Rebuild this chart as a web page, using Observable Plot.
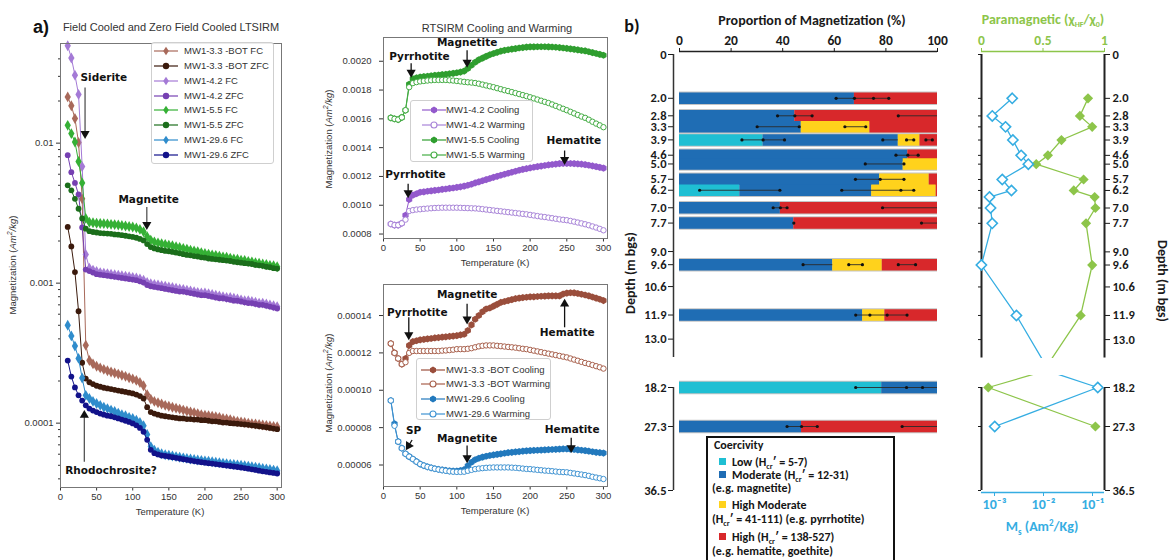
<!DOCTYPE html>
<html>
<head>
<meta charset="utf-8">
<script src="https://cdn.jsdelivr.net/npm/d3@7"></script>
<script src="https://cdn.jsdelivr.net/npm/@observablehq/plot@0.6"></script>
<style>
html,body{margin:0;padding:0;background:#fff;}
#root{position:relative;width:1170px;height:560px;overflow:hidden;background:#fff;}
.t{position:absolute;white-space:nowrap;line-height:1;}
</style>
</head>
<body>
<div id="root"></div>
<script>
// ---------------- DATA ----------------
const temps = [10,15,20,25,30,35,40,45,50,55,60,65,70,75,80,85,90,95,100,105,110,115,120,125,130,135,140,145,150,155,160,165,170,175,180,185,190,195,200,205,210,215,220,225,230,235,240,245,250,255,260,265,270,275,280,285,290,295,300];

// Panel a: LTSIRM (Am2/kg)
const fc33 = [0.0214,0.0185,0.015,0.0101,0.004,0.00036,0.00028,0.000265,0.000255,0.000248,
0.000242,0.000237,0.000232,0.000228,0.000224,0.00022,0.000216,0.000211,0.000207,0.000202,
0.000195,0.000185,0.00016,0.000148,0.000143,0.00014,0.000137,0.000134,0.000132,0.00013,
0.000128,0.000126,0.000124,0.000122,0.00012,0.000119,0.000117,0.000115,0.000114,0.000113,
0.000112,0.000111,0.00011,0.000108,0.000107,0.000106,0.000104,0.000103,0.000102,0.000101,
0.0001,0.0000992,0.0000985,0.0000978,0.000097,0.0000962,0.0000955,0.0000948,0.0000943];
const zfc33 = [0.00252,0.00183,0.0012,0.00063,0.00027,0.000208,0.000196,0.00019,0.000185,0.000182,
0.000179,0.000177,0.000175,0.000173,0.000171,0.000169,0.000167,0.000165,0.000163,0.00016,
0.000156,0.00015,0.00013,0.00012,0.000117,0.000115,0.000113,0.000112,0.000111,0.00011,
0.000109,0.000108,0.000108,0.000107,0.000107,0.000106,0.000106,0.000105,0.000105,0.000104,
0.000103,0.000103,0.000102,0.000101,0.000101,0.0001,0.0000995,0.000099,0.0000985,0.000098,
0.0000972,0.0000965,0.0000958,0.000095,0.0000942,0.0000935,0.0000925,0.0000915,0.0000906];
const fc42 = [0.0496,0.0406,0.0306,0.0223,0.0068,0.0016,0.00128,0.00124,0.00121,0.00119,
0.00118,0.00117,0.00116,0.00115,0.00114,0.00113,0.00112,0.00111,0.0011,0.00109,
0.00107,0.00105,0.00101,0.00099,0.00098,0.00097,0.00096,0.00095,0.00094,0.00093,
0.00092,0.00091,0.0009,0.00089,0.00088,0.00087,0.00086,0.00085,0.00085,0.00084,
0.00083,0.00082,0.00081,0.0008,0.00079,0.00079,0.00078,0.00077,0.00076,0.00075,
0.00075,0.00074,0.00073,0.00072,0.00072,0.00071,0.0007,0.00069,0.00068];
const zfc42 = [0.0082,0.0062,0.0052,0.0043,0.0025,0.00125,0.00122,0.00119,0.00116,0.00115,
0.00114,0.00113,0.00112,0.00111,0.0011,0.00109,0.00108,0.00107,0.00106,0.00105,
0.00103,0.00101,0.00097,0.00095,0.00094,0.00093,0.00092,0.00091,0.0009,0.00089,
0.00088,0.00087,0.00087,0.00086,0.00085,0.00084,0.00083,0.00082,0.00082,0.00081,
0.0008,0.00079,0.00078,0.00078,0.00077,0.00076,0.00075,0.00075,0.00074,0.00073,
0.00072,0.00072,0.00071,0.0007,0.0007,0.00069,0.00068,0.00067,0.00066];
const fc55 = [0.0134,0.0117,0.0102,0.0074,0.0052,0.0029,0.00272,0.0027,0.00268,0.00267,
0.00266,0.00265,0.00263,0.00262,0.0026,0.00258,0.00256,0.00254,0.00252,0.00248,
0.00242,0.00233,0.00215,0.00203,0.00197,0.00194,0.00191,0.00189,0.00187,0.00185,
0.00182,0.0018,0.00177,0.00175,0.00172,0.0017,0.00168,0.00165,0.00163,0.00161,
0.00159,0.00158,0.00156,0.00154,0.00153,0.00151,0.00149,0.00148,0.00146,0.00145,
0.00143,0.00142,0.0014,0.00139,0.00137,0.00136,0.00134,0.00133,0.00131];
const zfc55 = [0.005,0.0046,0.004,0.0034,0.0029,0.00245,0.00235,0.00232,0.0023,0.00228,
0.00227,0.00226,0.00225,0.00223,0.00222,0.0022,0.00218,0.00216,0.00214,0.00211,
0.00207,0.00202,0.0019,0.00181,0.00177,0.00174,0.00172,0.0017,0.00169,0.00167,
0.00165,0.00163,0.00161,0.00159,0.00158,0.00156,0.00155,0.00153,0.00152,0.0015,
0.00149,0.00148,0.00147,0.00146,0.00145,0.00144,0.00142,0.00141,0.0014,0.00139,
0.00138,0.00137,0.00135,0.00134,0.00133,0.00131,0.0013,0.00128,0.00127];
const fc296 = [0.0005,0.00042,0.000355,0.00029,0.00021,0.000158,0.00015,0.000143,0.000138,0.000134,
0.00013,0.000127,0.000124,0.000121,0.000118,0.000115,0.000113,0.00011,0.000108,0.000105,
0.000101,0.000096,0.000083,0.000068,0.000064,0.000062,0.0000605,0.0000595,0.000059,0.0000583,
0.0000577,0.0000571,0.0000565,0.000056,0.0000555,0.000055,0.0000546,0.0000542,0.0000538,0.0000534,
0.000053,0.0000526,0.0000522,0.0000518,0.0000514,0.000051,0.0000506,0.0000503,0.00005,0.0000496,
0.0000492,0.0000488,0.0000484,0.000048,0.0000475,0.0000471,0.0000467,0.0000462,0.0000457];
const zfc296 = [0.00028,0.000215,0.00018,0.000158,0.000145,0.000134,0.000127,0.000123,0.00012,0.000117,
0.000115,0.000113,0.000112,0.00011,0.000108,0.000106,0.000104,0.000102,0.0000995,0.0000965,
0.0000925,0.0000868,0.000076,0.0000645,0.000061,0.0000598,0.0000588,0.0000583,0.0000578,0.0000571,
0.0000565,0.0000559,0.0000553,0.0000547,0.0000541,0.0000536,0.0000531,0.0000526,0.0000522,0.0000518,
0.0000514,0.000051,0.0000506,0.0000502,0.0000498,0.0000494,0.000049,0.0000486,0.0000482,0.0000478,
0.0000473,0.0000468,0.0000463,0.0000458,0.0000453,0.0000449,0.0000445,0.0000441,0.0000437];

// Panel middle-top: RTSIRM MW1-4.2 / MW1-5.5
const c42 = [0.00087,0.000862,0.000862,0.000875,0.00093,0.00104,0.00107,0.00108,0.00109,0.001093,
0.001097,0.0011,0.001103,0.001106,0.00111,0.001113,0.001117,0.00112,0.001124,0.001128,
0.001133,0.001139,0.001146,0.001155,0.001162,0.00117,0.001178,0.001186,0.001194,0.001201,
0.001208,0.001215,0.001222,0.001229,0.001236,0.001243,0.001249,0.001254,0.001259,0.001264,
0.001268,0.001272,0.001276,0.00128,0.001283,0.001286,0.001289,0.00129,0.00129,0.00129,
0.001289,0.001287,0.001285,0.001282,0.001278,0.001273,0.001268,0.001263,0.001258];
const w42 = [0.00087,0.000862,0.000862,0.000875,0.0009,0.00096,0.000966,0.00097,0.000972,0.000975,
0.000977,0.000979,0.000981,0.000982,0.000983,0.000983,0.000983,0.000983,0.000983,0.000982,
0.000981,0.00098,0.000979,0.000978,0.000976,0.000973,0.00097,0.000967,0.000964,0.000961,
0.000958,0.000955,0.000952,0.000949,0.000946,0.000943,0.00094,0.000937,0.000933,0.000929,
0.000925,0.000921,0.000918,0.000914,0.00091,0.000906,0.000902,0.000899,0.000896,0.000891,
0.000886,0.00088,0.000874,0.000868,0.000861,0.000853,0.000845,0.000836,0.000826];
const c55 = [0.001607,0.0016,0.001595,0.00161,0.00166,0.00184,0.001878,0.001885,0.00189,0.001893,
0.001896,0.001899,0.001902,0.001904,0.001907,0.00191,0.001913,0.001916,0.00192,0.001925,
0.001932,0.00195,0.001972,0.001993,0.00201,0.002022,0.002034,0.002045,0.002054,0.002062,
0.00207,0.002076,0.00208,0.002084,0.002088,0.002092,0.002095,0.002098,0.0021,0.0021,
0.002101,0.002101,0.002101,0.0021,0.002099,0.002097,0.002095,0.002092,0.002089,0.002086,
0.002083,0.002079,0.002075,0.002072,0.002066,0.00206,0.002054,0.002048,0.002042];
const w55 = [0.001607,0.0016,0.001595,0.00161,0.00166,0.00182,0.001848,0.001855,0.00186,0.001863,
0.001866,0.001868,0.00187,0.00187,0.00187,0.00187,0.001868,0.001866,0.001863,0.00186,
0.001857,0.001854,0.001852,0.001849,0.001844,0.001838,0.001832,0.001826,0.00182,0.001813,
0.001806,0.001799,0.001793,0.001786,0.001779,0.001772,0.001765,0.001758,0.00175,0.001742,
0.001734,0.001726,0.001718,0.00171,0.0017,0.00169,0.00168,0.00167,0.00166,0.001649,
0.001638,0.001627,0.001616,0.001607,0.001594,0.00158,0.001567,0.001555,0.001542];

// Panel middle-bottom: RTSIRM MW1-3.3 BOT / MW1-29.6
const c33 = [0.000125,0.00012,0.000117,0.000114,0.000117,0.000124,0.000126,0.0001265,0.000127,0.0001272,
0.0001275,0.0001277,0.000128,0.0001282,0.0001284,0.0001286,0.0001288,0.000129,0.0001292,0.0001296,
0.00013,0.000132,0.000135,0.000138,0.00014,0.000142,0.0001435,0.000144,0.000145,0.000146,
0.000147,0.0001475,0.000148,0.0001485,0.000149,0.0001493,0.0001496,0.0001498,0.00015,0.00015,
0.0001502,0.0001503,0.0001504,0.0001505,0.0001505,0.0001505,0.0001505,0.0001515,0.000152,0.0001522,
0.0001521,0.0001518,0.0001514,0.000151,0.0001505,0.0001499,0.0001493,0.0001487,0.000148];
const w33 = [0.000125,0.00012,0.000117,0.000114,0.000115,0.00012,0.000121,0.000121,0.000121,0.000121,
0.000121,0.000121,0.000121,0.000121,0.0001212,0.0001213,0.0001215,0.0001217,0.000122,0.000122,
0.000122,0.0001222,0.0001225,0.000123,0.0001235,0.0001238,0.000124,0.000124,0.000124,0.0001238,
0.0001236,0.0001234,0.0001232,0.000123,0.0001228,0.0001225,0.0001222,0.000122,0.0001216,0.0001212,
0.0001208,0.0001204,0.00012,0.0001196,0.0001192,0.0001188,0.0001184,0.000118,0.0001176,0.000117,
0.0001164,0.0001158,0.0001152,0.0001146,0.0001141,0.0001135,0.0001129,0.0001123,0.0001116];
const c296 = [0.0000945,0.000082,0.0000725,0.000069,0.000066,0.0000645,0.0000632,0.0000618,0.0000605,0.0000597,
0.000059,0.0000585,0.000058,0.0000577,0.0000574,0.0000571,0.0000569,0.0000568,0.0000568,0.000057,
0.0000575,0.0000596,0.0000615,0.0000628,0.0000636,0.0000642,0.0000647,0.0000651,0.0000654,0.0000657,
0.000066,0.0000663,0.0000666,0.0000668,0.000067,0.0000672,0.0000674,0.0000676,0.0000677,0.0000678,
0.0000679,0.000068,0.0000681,0.0000682,0.0000683,0.0000684,0.0000685,0.0000686,0.0000686,0.0000685,
0.0000683,0.0000681,0.0000679,0.0000677,0.0000674,0.0000671,0.0000668,0.0000666,0.0000664];
const w296 = [0.0000945,0.000081,0.0000725,0.000069,0.000066,0.0000645,0.0000632,0.0000618,0.0000605,0.0000597,
0.000059,0.0000585,0.000058,0.0000576,0.0000572,0.0000569,0.0000566,0.0000564,0.0000563,0.0000563,
0.0000564,0.0000569,0.0000574,0.0000578,0.0000581,0.0000583,0.0000585,0.0000586,0.0000587,0.0000587,
0.0000587,0.0000587,0.0000587,0.0000586,0.0000585,0.0000583,0.0000581,0.0000579,0.0000578,0.0000576,
0.0000574,0.0000572,0.000057,0.0000569,0.0000567,0.0000565,0.0000563,0.0000562,0.0000561,0.0000558,
0.0000555,0.0000552,0.0000549,0.0000546,0.0000542,0.0000537,0.0000533,0.0000529,0.0000525];

// Panel b: coercivity proportions (%)
const barDepths   = [2.0, 2.8, 3.3, 3.9, 4.6, 5.0, 5.7, 6.2, 7.0, 7.7, 9.6, 11.9, 18.2, 27.3];
const lowPct      = [0, 0, 0, 32.4, 0, 0, 0, 23.4, 0, 0, 0, 0, 78.4, 0];
const moderatePct = [67.8, 44.7, 47.2, 52.4, 88.5, 86.7, 77.6, 51.1, 39.1, 44.3, 59.4, 71.0, 21.6, 47.3];
const highModPct  = [0, 0, 26.6, 8.4, 0, 13.3, 19.2, 25.0, 0, 0, 19.2, 8.6, 0, 0];
const highPct     = [32.2, 55.3, 26.2, 6.8, 11.5, 0, 3.2, 0.5, 60.9, 55.7, 21.4, 20.4, 0, 52.7];
const classes     = ["Low", "Moderate", "High Moderate", "High"];
const errDepth = [2.0, 2.0, 2.8, 2.8, 3.3, 3.3, 3.9, 3.9, 3.9, 3.9, 4.6, 5.0, 5.7, 6.2, 6.2, 7.0, 7.0, 7.7, 9.6, 9.6, 9.6, 11.9, 18.2, 27.3, 27.3];
const errLo    = [60.7, 67.8, 38, 84.8, 30.1, 64.1, 24.2, 78.8, 88, 95.5, 83.9, 72, 68.2, 7.8, 62.9, 36.3, 78.7, 93.8, 47.9, 65.6, 84.8, 68.3, 68.3, 41.7, 86.3];
const errHi    = [67.8, 81.1, 51.4, 100, 46.4, 72.2, 40.7, 84.8, 90.8, 98, 92.5, 87, 87, 38.9, 90.8, 41.7, 100, 100, 59.4, 70.9, 91.5, 88.2, 100, 53.4, 100];
const errDots  = [[2.0,[60.7,67.8,75.2,81.1]],[2.8,[38,44.7,51.4,84.8]],[3.3,[30.1,46.4,64.1,72.2]],
  [3.9,[24.2,32.4,40.7,78.8,88,90.8,95.5,98]],[4.6,[83.9,88.5,92.5]],[5.0,[72,87]],[5.7,[68.2,77.8,87]],
  [6.2,[7.8,38.9,62.9,85.8,90.8]],[7.0,[36.3,39.1,41.7,78.7]],[7.7,[44.3,93.8]],[9.6,[47.9,65.6,70.9,84.8,91.5]],
  [11.9,[68.3,73.8,80.5,88.2]],[18.2,[68.3,88,94.2]],[27.3,[41.7,47.3,53.4,86.3]]];

// Right panel: paramagnetic fraction and Ms
const profDepth = [2.0, 2.8, 3.3, 3.9, 4.6, 5.0, 5.7, 6.2, 6.5, 7.0, 7.7, 9.6, 11.9, 18.2, 27.3];
const paraFrac  = [0.866, 0.80, 0.90, 0.65, 0.54, 0.445, 0.83, 0.75, 0.92, 0.926, 0.85, 0.90, 0.806, 0.055, 0.926];
const msVal     = [0.0023, 0.0009, 0.00168, 0.00237, 0.0035, 0.0049, 0.00144, 0.00222, 0.00079, 0.00083, 0.0009, 0.00054, 0.0028, 0.128, 0.00101];

// tick labels
const tempTicks = [0, 50, 100, 150, 200, 250, 300];
const depthTicksUpper = [0, 2.0, 2.8, 3.3, 3.9, 4.6, 5.0, 5.7, 6.2, 7.0, 7.7, 9.0, 9.6, 10.6, 11.9, 13.0];
const depthTicksLower = [18.2, 27.3, 36.5];
const depthBreak = [13.84, 18.2];

[fc33,zfc33,fc42,zfc42,fc55,zfc55,fc296,zfc296,c42,w42,c55,w55,c33,w33,c296,w296].forEach((a,i)=>{
  if (a.length !== temps.length) throw new Error("series " + i + " has " + a.length);
});

// ---------------- HELPERS ----------------
const root = document.getElementById("root");
const SANS = "'Liberation Sans', Arial, sans-serif";
const CAL = "Carlito, Lato, 'Open Sans', sans-serif";
const GREEN = "#8dc54a", BLUE = "#35ade2";
function put(node, left, top) {
  node.style.position = "absolute"; node.style.left = left + "px"; node.style.top = top + "px";
  root.appendChild(node); return node;
}
function label(html, cx, cy, font, color, rot) {
  const d = document.createElement("div");
  d.className = "t"; d.innerHTML = html;
  d.style.left = cx + "px"; d.style.top = cy + "px";
  d.style.font = font; d.style.color = color || "#222";
  d.style.transform = "translate(-50%,-50%)" + (rot ? ` rotate(${rot}deg)` : "");
  root.appendChild(d);
}
// broken (piecewise) depth axis: a scale transform that keeps the end points fixed
function brokenAxis(knotsDepth, knotsPx) {
  const d0 = knotsDepth[0], d1 = knotsDepth[knotsDepth.length - 1];
  const p0 = knotsPx[0], p1 = knotsPx[knotsPx.length - 1];
  return d3.scaleLinear(knotsDepth, knotsPx.map(p => d0 + (p - p0) / (p1 - p0) * (d1 - d0)));
}
const fmtDepth = d => Math.abs(d) < 1e-6 ? "0" : d.toFixed(1);
const rowsOf = (vals) => temps.map((t, i) => ({T: t, v: vals[i]}));
function markerSvg(it) {
  if (it.sym === "diamond") return `<path d="M12,1.8L14.8,6L12,10.2L9.2,6Z" fill="${it.color}"/>`;
  if (it.sym === "hexagon") return `<path d="M12,2.5L15,4.25L15,7.75L12,9.5L9,7.75L9,4.25Z" fill="${it.color}"/>`;
  if (it.hollow) return `<circle cx="12" cy="6" r="3" fill="#fff" stroke="${it.color}" stroke-width="1.1"/>`;
  return `<circle cx="12" cy="6" r="3.2" fill="${it.color}"/>`;
}
function legendBox(x, y, w, h, items, firstY, gap, padL, textX) {
  const box = document.createElement("div");
  box.style.cssText = `position:absolute;left:${x}px;top:${y}px;width:${w}px;height:${h}px;border:1px solid #cfcfcf;border-radius:3px;background:rgba(255,255,255,0.85);box-sizing:border-box;`;
  items.forEach((it, i) => {
    const r = document.createElement("div");
    r.style.cssText = `position:absolute;left:${padL}px;top:${firstY + i*gap - 6}px;height:12px;white-space:nowrap;font:9.5px ${SANS};color:#333;line-height:12px;`;
    r.innerHTML = `<svg width="24" height="12" style="position:absolute;left:0;top:0"><line x1="0" x2="24" y1="6" y2="6" stroke="${it.color}" stroke-width="1.2"/>${markerSvg(it)}</svg><span style="position:absolute;left:${textX - padL}px;top:0">${it.name}</span>`;
    box.appendChild(r);
  });
  root.appendChild(box);
}
function annot(texts, arrows, lineColor) {
  return [
    Plot.link(arrows, {x1: "x1", y1: "y1", x2: "x2", y2: "y2", stroke: lineColor, strokeWidth: 1.3}),
    Plot.dot(arrows, {x: "x2", y: "y2", symbol: "triangle", rotate: "rot", r: 3.4, fill: "#111"}),
    Plot.text(texts, {x: "x", y: "y", text: "t", fontWeight: "bold", fontSize: 10.5, fontFamily: "'DejaVu Sans', sans-serif", fill: "#111"})
  ];
}

// ---------------- PANEL a ----------------
const seriesA = [
  {name: "MW1-3.3 -BOT FC",  vals: fc33,  color: "#a8695a", sym: "diamond"},
  {name: "MW1-3.3 -BOT ZFC", vals: zfc33, color: "#3b1a0c", sym: "circle"},
  {name: "MW1-4.2 FC",       vals: fc42,  color: "#a47ad6", sym: "diamond"},
  {name: "MW1-4.2 ZFC",      vals: zfc42, color: "#7640b2", sym: "circle"},
  {name: "MW1-5.5 FC",       vals: fc55,  color: "#35b035", sym: "diamond"},
  {name: "MW1-5.5 ZFC",      vals: zfc55, color: "#1b6e1b", sym: "circle"},
  {name: "MW1-29.6 FC",      vals: fc296, color: "#2f8ccc", sym: "diamond"},
  {name: "MW1-29.6 ZFC",     vals: zfc296,color: "#12128a", sym: "circle"}
];
const logMajor = [1e-4, 1e-3, 1e-2];
const logMinor = [1e-5, 1e-4, 1e-3, 1e-2].flatMap(p => [2,3,4,5,6,7,8,9].map(k => k * p)).filter(v => v > 3.5e-5 && v < 0.05);
const textsA = [{t: "Siderite", x: 60, y: 0.0296}, {t: "Magnetite", x: 122, y: 0.00398}, {t: "Rhodochrosite?", x: 70, y: 0.0000461}];
const arrowsA = [{x1: 34, y1: 0.025, x2: 34, y2: 0.0117, rot: 180}, {x1: 119.5, y1: 0.0035, x2: 119.5, y2: 0.00262, rot: 180},
                 {x1: 33, y1: 0.000053, x2: 33, y2: 0.000114, rot: 0}];
const plotA = Plot.plot({
  width: 290, height: 530, marginLeft: 60, marginRight: 9, marginTop: 43, marginBottom: 43,
  x: {domain: [0, 306]},
  y: {type: "log", domain: [3.47e-5, 0.0515]},
  style: {background: "transparent", fontFamily: SANS, fontSize: "9.5px", color: "#333", overflow: "visible"},
  marks: [
    Plot.axisX({ticks: tempTicks, tickSize: 3.5, tickPadding: 2, label: null}),
    Plot.axisY({ticks: logMajor, tickFormat: d => String(d), tickSize: 4, tickPadding: 3, label: null}),
    Plot.axisY({ticks: logMinor, tickFormat: () => "", tickSize: 2, label: null}),
    ...seriesA.flatMap(s => [
      Plot.line(rowsOf(s.vals), {x: "T", y: "v", stroke: s.color, strokeWidth: 1}),
      Plot.dot(rowsOf(s.vals), {x: "T", y: "v", fill: s.color, symbol: s.sym, r: s.sym === "diamond" ? 3.3 : 2.9})
    ]),
    ...annot(textsA, arrowsA, "#555"),
    Plot.frame({stroke: "#777"})
  ]
});
put(plotA, 0, 0);

// ---------------- MIDDLE PANELS ----------------
function middlePlot(series, yDomain, yTicks, fmt, h, mt, mb, texts, arrows) {
  return Plot.plot({
    width: 305, height: h, marginLeft: 73, marginRight: 8, marginTop: mt, marginBottom: mb,
    x: {domain: [0, 305.5]},
    y: {domain: yDomain},
    style: {background: "transparent", fontFamily: SANS, fontSize: "9.5px", color: "#333", overflow: "visible"},
    marks: [
      Plot.axisX({ticks: tempTicks, tickSize: 3.5, tickPadding: 2, label: null}),
      Plot.axisY({ticks: yTicks, tickFormat: fmt, tickSize: 4, tickPadding: 8, label: null}),
      ...series.flatMap(s => [
        Plot.line(rowsOf(s.vals), {x: "T", y: "v", stroke: s.color, strokeWidth: 1}),
        s.hollow
          ? Plot.dot(rowsOf(s.vals), {x: "T", y: "v", r: 2.7, fill: "white", stroke: s.color, strokeWidth: 1})
          : Plot.dot(rowsOf(s.vals), {x: "T", y: "v", r: 3.1, symbol: "hexagon", fill: s.color})
      ]),
      ...annot(texts, arrows, "#111"),
      Plot.frame({stroke: "#777"})
    ]
  });
}
const seriesB = [
  {name: "MW1-4.2  Cooling", vals: c42, color: "#9359cc", sym: "hexagon"},
  {name: "MW1-4.2  Warming", vals: w42, color: "#a884d8", hollow: true},
  {name: "MW1-5.5  Cooling", vals: c55, color: "#2f9e2f", sym: "hexagon"},
  {name: "MW1-5.5  Warming", vals: w55, color: "#45ad45", hollow: true}
];
const textsB = [{t: "Magnetite", x: 114, y: 0.002127}, {t: "Pyrrhotite", x: 49, y: 0.002035},
                {t: "Pyrrhotite", x: 43.6, y: 0.001211}, {t: "Hematite", x: 259.5, y: 0.00145}];
const arrowsB = [{x1: 114, y1: 0.002077, x2: 114, y2: 0.001992, rot: 180}, {x1: 37.7, y1: 0.001986, x2: 37.7, y2: 0.001922, rot: 180},
                 {x1: 33.6, y1: 0.00115, x2: 33.6, y2: 0.001086, rot: 180}, {x1: 247, y1: 0.00138, x2: 247, y2: 0.001316, rot: 180}];
const plotB = middlePlot(seriesB, [0.000769, 0.002165], [0.0008, 0.001, 0.0012, 0.0014, 0.0016, 0.0018, 0.002],
  d3.format(".4f"), 280, 37, 42, textsB, arrowsB);
put(plotB, 310, 0);

const seriesC = [
  {name: "MW1-3.3 -BOT Cooling", vals: c33, color: "#9a4e3c", sym: "hexagon"},
  {name: "MW1-3.3 -BOT Warming", vals: w33, color: "#a8604c", hollow: true},
  {name: "MW1-29.6 Cooling", vals: c296, color: "#2279bd", sym: "hexagon"},
  {name: "MW1-29.6 Warming", vals: w296, color: "#3f93d2", hollow: true}
];
const textsC = [{t: "Magnetite", x: 114, y: 0.0001513}, {t: "Pyrrhotite", x: 46, y: 0.0001418}, {t: "Hematite", x: 250.5, y: 0.0001311},
                {t: "SP", x: 41, y: 0.0000784}, {t: "Magnetite", x: 114, y: 0.0000739}, {t: "Hematite", x: 257.3, y: 0.0000788}];
const arrowsC = [{x1: 114, y1: 0.0001463, x2: 114, y2: 0.000138, rot: 180}, {x1: 34.5, y1: 0.0001391, x2: 34.5, y2: 0.0001296, rot: 180},
                 {x1: 247, y1: 0.0001337, x2: 247, y2: 0.0001462, rot: 0}, {x1: 39, y1: 0.0000734, x2: 34.2, y2: 0.0000703, rot: 212},
                 {x1: 114, y1: 0.0000704, x2: 114, y2: 0.0000638, rot: 180}, {x1: 256, y1: 0.0000746, x2: 256, y2: 0.0000692, rot: 180}];
const plotC = middlePlot(seriesC, [0.0000485, 0.0001566], [0.00006, 0.00008, 0.0001, 0.00012, 0.00014],
  d3.format(".5f"), 250, 4, 44, textsC, arrowsC);
put(plotC, 310, 280);

// ---------------- PANEL b: BARS ----------------
const pctArrays = [lowPct, moderatePct, highModPct, highPct];
const segs = [];
barDepths.forEach((d, i) => {
  let acc = 0;
  pctArrays.forEach((arr, k) => { const w = arr[i]; if (w > 0) { segs.push({depth: d, a: acc, b: acc + w, cls: classes[k]}); acc += w; } });
});
const errRows = errDepth.map((d, i) => ({depth: d, lo: errLo[i], hi: errHi[i]}));
const dotRows = errDots.flatMap(([d, xs]) => xs.map(x => ({depth: d, x})));
const axisSegs = [{from: 0, to: depthBreak[0]}, {from: depthBreak[1], to: 36.5}];
const barTransform = brokenAxis([0, depthBreak[0], 18.2, 27.3, 36.5], [54, 357, 387, 426, 490]);
const barTicks = depthTicksUpper.concat(depthTicksLower).map(barTransform);
const plotBars = Plot.plot({
  width: 330, height: 500, marginLeft: 53, marginRight: 13, marginTop: 51, marginBottom: 10,
  x: {domain: [0, 100], range: [59, 317]},
  y: {transform: barTransform, domain: [0, 36.5], range: [54, 490]},
  color: {domain: classes, range: ["#1fbfd3", "#1f6db4", "#ffd21c", "#d8282b"]},
  style: {background: "transparent", fontFamily: CAL, fontSize: "12.5px", fontWeight: "bold", color: "#1a1a1a", overflow: "visible"},
  marks: [
    Plot.ruleY([0], {x1: 0, x2: 100, dy: -3, stroke: "#222", strokeWidth: 1.5}),
    Plot.axisX({anchor: "top", ticks: [0, 20, 40, 60, 80, 100], tickSize: 4, tickPadding: 3, fontSize: 13.5, label: null}),
    Plot.ruleX(axisSegs, {x: 0, y1: "from", y2: "to", dx: -6, stroke: "#333", strokeWidth: 1.5}),
    Plot.axisY({ticks: barTicks, tickFormat: d => fmtDepth(barTransform.invert(d)), tickSize: 5, tickPadding: 2, label: null}),
    Plot.ruleY(barDepths, {x1: 0, x2: 100, stroke: "#c4c4c4", strokeWidth: 13.5}),
    Plot.ruleY(segs, {y: "depth", x1: "a", x2: "b", stroke: "cls", strokeWidth: 11.5}),
    Plot.ruleY(errRows, {y: "depth", x1: "lo", x2: "hi", stroke: "#2a2a2a", strokeWidth: 0.9}),
    Plot.dot(dotRows, {x: "x", y: "depth", r: 1.6, fill: "#111"})
  ]
});
put(plotBars, 620, 0);

// ---------------- RIGHT PANEL ----------------
const profRows = profDepth.map((d, i) => ({depth: d, p: paraFrac[i], m: msVal[i]}));
const upper = profRows.filter(r => r.depth < depthBreak[0]);
const lower = profRows.filter(r => r.depth > depthBreak[1] - 0.1);
const boldStyle = {background: "transparent", fontFamily: CAL, fontSize: "12.5px", fontWeight: "bold", color: "#1a1a1a", overflow: "visible"};
const supMap = {"-": "\u207B", "0": "\u2070", "1": "\u00B9", "2": "\u00B2", "3": "\u00B3"};
const fmtPow = d => "10" + String(Math.round(Math.log10(d))).split("").map(c => supMap[c]).join("");
const lowerTransform = brokenAxis(depthTicksLower, [27, 66, 130]);
const lowerTicks = depthTicksLower.map(lowerTransform);

const greenUpper = Plot.plot({
  width: 230, height: 358, marginLeft: 41, marginRight: 66, marginTop: 51, marginBottom: 0,
  x: {domain: [0, 1]}, y: {domain: [0, depthBreak[0]], range: [54, 357.5]},
  style: boldStyle,
  marks: [
    Plot.ruleY([0], {x1: 0, x2: 1, dy: -3, stroke: GREEN, strokeWidth: 1.6}),
    Plot.axisX({anchor: "top", ticks: [0, 0.5, 1], tickFormat: d => String(d), tickSize: 4, tickPadding: 3, stroke: GREEN, fill: GREEN, fontSize: 13.5, label: null}),
    Plot.ruleX([0, 1], {y1: 0, y2: depthBreak[0], stroke: "#222", strokeWidth: 2}),
    Plot.axisY({anchor: "right", ticks: depthTicksUpper, tickFormat: fmtDepth, tickSize: 5, tickPadding: 3, label: null}),
    Plot.axisY({anchor: "left", ticks: depthTicksUpper, tickFormat: () => "", tickSize: 3, label: null}),
    Plot.line(profRows, {x: "p", y: "depth", stroke: GREEN, strokeWidth: 1.3, clip: true}),
    Plot.dot(upper, {x: "p", y: "depth", symbol: "diamond2", r: 4.6, fill: GREEN})
  ]
});
put(greenUpper, 940, 0);
const blueUpper = Plot.plot({
  width: 230, height: 358, marginLeft: 41, marginRight: 66, marginTop: 51, marginBottom: 0,
  x: {type: "log", domain: [0.001, 0.1], range: [54, 152], axis: null},
  y: {domain: [0, depthBreak[0]], range: [54, 357.5], axis: null},
  style: {background: "transparent", overflow: "visible"},
  marks: [
    Plot.line(profRows, {x: "m", y: "depth", stroke: BLUE, strokeWidth: 1.3, clip: true}),
    Plot.dot(upper, {x: "m", y: "depth", symbol: "diamond2", r: 4.6, fill: "white", stroke: BLUE, strokeWidth: 1.6})
  ]
});
put(blueUpper, 940, 0);
const greenLower = Plot.plot({
  width: 230, height: 200, marginLeft: 41, marginRight: 66, marginTop: 15, marginBottom: 68,
  x: {domain: [0, 1], axis: null},
  y: {transform: lowerTransform, domain: [18.2, 36.5], range: [27, 130]},
  style: boldStyle,
  marks: [
    Plot.ruleX([0, 1], {y1: 18.2, y2: 36.5, stroke: "#222", strokeWidth: 2}),
    Plot.ruleY([36.5], {x1: 0, x2: 1, dy: 2, stroke: BLUE, strokeWidth: 1.6}),
    Plot.axisY({anchor: "right", ticks: lowerTicks, tickFormat: d => fmtDepth(lowerTransform.invert(d)), tickSize: 5, tickPadding: 3, label: null}),
    Plot.axisY({anchor: "left", ticks: lowerTicks, tickFormat: () => "", tickSize: 3, label: null}),
    Plot.line(profRows, {x: "p", y: "depth", stroke: GREEN, strokeWidth: 1.3, clip: true}),
    Plot.dot(lower, {x: "p", y: "depth", symbol: "diamond2", r: 4.6, fill: GREEN})
  ]
});
put(greenLower, 940, 360);
const blueLower = Plot.plot({
  width: 230, height: 200, marginLeft: 41, marginRight: 66, marginTop: 15, marginBottom: 68,
  x: {type: "log", domain: [0.001, 0.1], range: [54, 152]},
  y: {transform: lowerTransform, domain: [18.2, 36.5], range: [27, 130], axis: null},
  style: {background: "transparent", fontFamily: CAL, fontSize: "14px", fontWeight: "bold", color: BLUE, overflow: "visible"},
  marks: [
    Plot.axisX({anchor: "bottom", ticks: [0.001, 0.01, 0.1], tickFormat: fmtPow, tickSize: 4, tickPadding: 3, stroke: BLUE, fill: BLUE, fontSize: 14, label: null}),
    Plot.line(profRows, {x: "m", y: "depth", stroke: BLUE, strokeWidth: 1.3, clip: true}),
    Plot.dot(lower, {x: "m", y: "depth", symbol: "diamond2", r: 4.6, fill: "white", stroke: BLUE, strokeWidth: 1.6})
  ]
});
put(blueLower, 940, 360);

// ---------------- TEXT ----------------
label("a)", 41, 27, `bold 18px ${SANS}`, "#111");
label("Field Cooled and Zero Field Cooled LTSIRM", 171, 27, `11px ${SANS}`, "#333");
label("RTSIRM Cooling and Warming", 497, 28, `11px ${SANS}`, "#333");
label("Temperature (K)", 170, 511, `9.5px ${SANS}`, "#333");
label("Temperature (K)", 495, 262, `9.5px ${SANS}`, "#333");
label("Temperature (K)", 495, 510, `9.5px ${SANS}`, "#333");
const magLbl = "Magnetization (<i>Am<sup style='font-size:7px'>2</sup>/kg</i>)";
label(magLbl, 12, 265, `9.5px ${SANS}`, "#333", -90);
label(magLbl, 328, 139, `9.5px ${SANS}`, "#333", -90);
label(magLbl, 328, 383, `9.5px ${SANS}`, "#333", -90);
label("b)", 632, 26, `bold 18px ${CAL}`, "#111");
label("Proportion of Magnetization (%)", 812, 20, `bold 14px ${CAL}`, "#1a1a1a");
label("Depth (m bgs)", 630, 273, `bold 14px ${CAL}`, "#1a1a1a", -90);
label("Depth (m bgs)", 1162, 281, `bold 14px ${CAL}`, "#1a1a1a", 90);
label("Paramagnetic (\u03C7<sub style='font-size:8px'>HF</sub>/\u03C7<sub style='font-size:8px'>0</sub>)", 1043, 20, `bold 14px ${CAL}`, GREEN);
label("M<sub style='font-size:9px'>s</sub> (Am<sup style='font-size:9px'>2</sup>/Kg)", 1042, 527, `bold 14px ${CAL}`, BLUE);

// ---------------- LEGENDS ----------------
legendBox(151, 42, 123, 122, seriesA, 8, 14.85, 2, 32);
legendBox(410, 100, 123, 62, seriesB, 9.3, 14.9, 11, 35);
legendBox(416, 358, 135, 62, seriesC, 10.6, 14.7, 4, 29);

const cbox = document.createElement("div");
cbox.style.cssText = `position:absolute;left:706px;top:436px;width:189px;height:140px;border:2.5px solid #111;box-sizing:border-box;background:#fff;font:bold 12px ${CAL};color:#151515;`;
const cl = ["#1fbfd3", "#1f6db4", "#ffd21c", "#d8282b"];
const cLines = [
  [6, 7, null, "Coercivity"],
  [11, 23.5, cl[0], "Low (H<sub style='font-size:8px;line-height:0'>cr</sub>\u2032 = 5-7)"],
  [11, 37, cl[1], "Moderate (H<sub style='font-size:8px;line-height:0'>cr</sub>\u2032 = 12-31)"],
  [4, 50, null, "(e.g. magnetite)"],
  [11, 67, cl[2], "High Moderate"],
  [4, 80.5, null, "(H<sub style='font-size:8px;line-height:0'>cr</sub>\u2032 = 41-111) (e.g. pyrrhotite)"],
  [11, 98.5, cl[3], "High (H<sub style='font-size:8px;line-height:0'>cr</sub>\u2032 = 138-527)"],
  [4, 112.5, null, "(e.g. hematite, goethite)"]
];
cLines.forEach(([x, y, col, txt]) => {
  const r = document.createElement("div");
  r.style.cssText = `position:absolute;left:${x}px;top:${y - 6}px;white-space:nowrap;line-height:12px;height:12px;`;
  r.innerHTML = (col ? `<span style="display:inline-block;width:7px;height:7px;background:${col};margin-right:6px;vertical-align:1px"></span>` : "") + txt;
  cbox.appendChild(r);
});
root.appendChild(cbox);
</script>
</body>
</html>
